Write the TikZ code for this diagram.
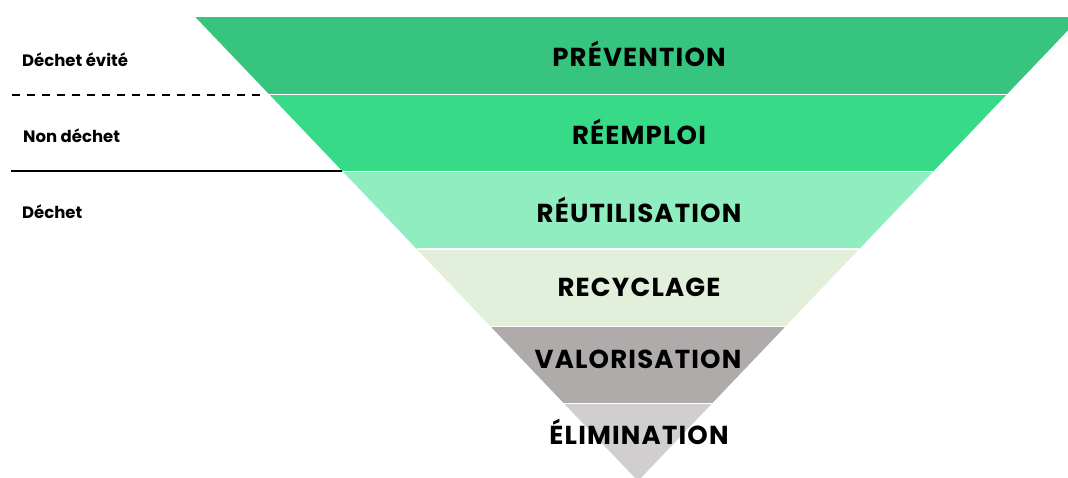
\documentclass[tikz,border=0pt]{standalone}
\usepackage{fontspec}
\setmainfont{Poppins}
\newfontfamily\levelfont{Poppins}[LetterSpace=4.5]
\definecolor{cPrev}{HTML}{36C47F}
\definecolor{cReem}{HTML}{37DB87}
\definecolor{cReut}{HTML}{8FEDC0}
\definecolor{cRecy}{HTML}{E2EFDA}
\definecolor{cValo}{HTML}{AFABAB}
\definecolor{cElim}{HTML}{D0CECE}
\tikzset{
  band/.style={draw=white, line width=1.5pt},
  level/.style={font=\levelfont\fontsize{26}{28}\selectfont\bfseries, text=black, inner sep=0pt},
  side/.style={font=\fontsize{16.5}{18}\selectfont\bfseries, text=black, anchor=west, inner sep=0pt},
  sep/.style={black, line width=1.5pt}
}
\begin{document}
\begin{tikzpicture}[x=1pt,y=-1pt]
\useasboundingbox (0,0) rectangle (1068,477);
\begin{scope}
\clip (0,0) rectangle (1068,477);
\fill[cPrev] (195.3,17) -- (1080.7,17) -- (1006.9,94.3) -- (269.1,94.3) -- cycle;
\fill[cReem] (269.1,94.3) -- (1006.9,94.3) -- (933.1,171.7) -- (342.9,171.7) -- cycle;
\fill[cReut] (342.9,171.7) -- (933.1,171.7) -- (859.3,249) -- (416.7,249) -- cycle;
\fill[cRecy] (416.7,249) -- (859.3,249) -- (785.6,326.3) -- (490.4,326.3) -- cycle;
\fill[cValo] (490.4,326.3) -- (785.6,326.3) -- (711.8,403.7) -- (564.2,403.7) -- cycle;
\fill[cElim] (564.2,403.7) -- (711.8,403.7) -- (638,481) -- cycle;
\draw[band] (269.1,94.3) -- (1006.9,94.3);
\draw[band] (342.9,171.7) -- (933.1,171.7);
\draw[band] (416.7,249) -- (859.3,249);
\draw[band] (490.4,326.3) -- (785.6,326.3);
\draw[band] (564.2,403.7) -- (711.8,403.7);
\end{scope}
\node[level] (prev) at (639,53.5) {PRÉVENTION};
\node[level] (reem) at (639,131.5) {RÉEMPLOI};
\node[level] (reut) at (639,209.5) {RÉUTILISATION};
\node[level] (recy) at (639,287.5) {RECYCLAGE};
\node[level] (valo) at (638,359.5) {VALORISATION};
\node[level] (elim) at (639,431.5) {ÉLIMINATION};
\node[side] (evite) at (22,60) {Déchet évité};
\node[side] (nond) at (23,136) {Non déchet};
\node[side] (dech) at (22,212) {Déchet};
\coordinate (d1) at (12,95);
\coordinate (d2) at (262,95);
\coordinate (s1) at (11,171);
\coordinate (s2) at (342,171);
\draw[sep, dash pattern=on 8pt off 7pt] (d1) -- (d2);
\draw[sep] (s1) -- (s2);
\end{tikzpicture}
\end{document}
